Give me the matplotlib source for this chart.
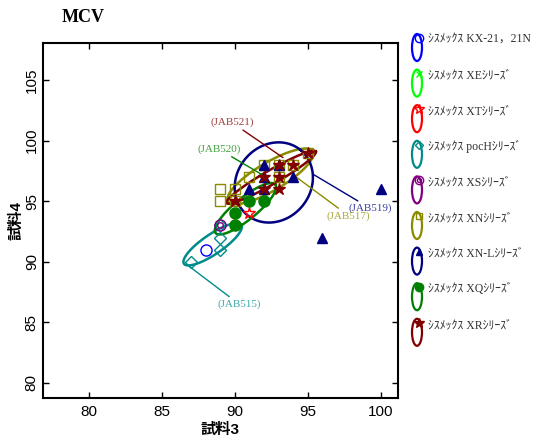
import numpy as np
import matplotlib
matplotlib.use('Agg')
import matplotlib.pyplot as plt
from matplotlib.patches import Ellipse

plt.rcParams['font.family'] = ['Liberation Sans', 'Noto Sans CJK JP']

# series (legend order)
names = ['ｼｽﾒｯｸｽ KX-21，21N', 'ｼｽﾒｯｸｽ XEｼﾘｰｽﾞ', 'ｼｽﾒｯｸｽ XTｼﾘｰｽﾞ',
         'ｼｽﾒｯｸｽ pocHｼﾘｰｽﾞ', 'ｼｽﾒｯｸｽ XSｼﾘｰｽﾞ', 'ｼｽﾒｯｸｽ XNｼﾘｰｽﾞ',
         'ｼｽﾒｯｸｽ XN-Lｼﾘｰｽﾞ', 'ｼｽﾒｯｸｽ XQｼﾘｰｽﾞ', 'ｼｽﾒｯｸｽ XRｼﾘｰｽﾞ']
colors = ['#0000FF', '#00FF00', '#FF0000', '#008B8B', '#800080',
          '#8B8B00', '#000080', '#008000', '#800000']
markers = ['o', 'x', '*', 'D', 'o', 's', '^', 'o', '*']
filled = [False, False, False, False, False, False, True, True, True]
msizes = [8, 7, 9, 6, 8, 7, 7, 8, 9]

# measured values (試料3, 試料4)
x_vals = [
    [88],
    [],
    [91],
    [89, 89, 87, 89],
    [89],
    [89, 89, 90, 90, 91, 92, 93, 94, 93, 95],
    [92, 93, 94, 92, 91, 92, 96, 100],
    [90, 90, 91, 92],
    [95, 93, 94, 92, 93, 92, 93, 90],
]
y_vals = [
    [91],
    [],
    [94],
    [93, 92, 90, 91],
    [93],
    [96, 95, 96, 95, 97, 98, 98, 98, 97, 99],
    [98, 98, 97, 97, 96, 96, 92, 96],
    [94, 93, 95, 95],
    [99, 98, 98, 97, 97, 96, 96, 95],
]

# ellipses: center, semi-axis vector A, semi-axis vector B (data units)
ell_center = {3: (88.48, 91.45), 5: (92.44, 97.05), 6: (92.67, 96.55),
              7: (90.73, 94.38), 8: (92.49, 96.98)}
ell_a = {3: (1.97, 1.61), 5: (2.91, 2.07), 6: (1.85, 2.66),
         7: (2.05, 2.0), 8: (3.06, 2.13)}
ell_b = {3: (0.38, -0.68), 5: (0.49, -1.0), 6: (-1.94, 1.97),
         7: (0.47, -0.71), 8: (0.24, -0.5)}

# labels pointing at ellipses
ann_text = ['(JAB521)', '(JAB520)', '(JAB519)', '(JAB517)', '(JAB515)']
ann_series = [8, 7, 6, 5, 3]
ann_xy = [(93.3, 98.6), (92.0, 97.1), (95.4, 97.2), (94.2, 97.0), (86.9, 89.6)]
ann_pos = [(89.8, 101.5), (88.9, 99.3), (99.3, 94.4), (97.8, 93.8), (90.3, 86.5)]

fig = plt.figure(figsize=(5.49, 4.41), dpi=100)
ax = fig.add_axes([0.0783, 0.0975, 0.6458, 0.805])

t = np.linspace(0, 2 * np.pi, 200)
for i in range(len(names)):
    if i in ell_center:
        cx, cy = ell_center[i]
        ex = cx + ell_a[i][0] * np.cos(t) + ell_b[i][0] * np.sin(t)
        ey = cy + ell_a[i][1] * np.cos(t) + ell_b[i][1] * np.sin(t)
        ax.plot(ex, ey, color=colors[i], lw=1.8, zorder=2 + i * 0.1)
    if len(x_vals[i]) == 0:
        continue
    mfc = colors[i] if filled[i] else 'none'
    ax.plot(x_vals[i], y_vals[i], ls='none', marker=markers[i], ms=msizes[i],
            mfc=mfc, mec=colors[i], mew=1, zorder=3 + i * 0.1)
    if i == 4:
        ax.plot(x_vals[i], y_vals[i], ls='none', marker='o', ms=4,
                mfc='none', mec=colors[i], mew=1, zorder=3 + i * 0.1)

for txt, s, xy, pos in zip(ann_text, ann_series, ann_xy, ann_pos):
    ax.annotate(txt, xy=xy, xytext=pos, ha='center', va='center',
                color=colors[s], alpha=0.75, fontsize=8, family='Liberation Serif',
                arrowprops=dict(arrowstyle='-', color=colors[s], lw=1,
                                shrinkA=0, shrinkB=0))

ax.set_xlim(76.85, 101.15)
ax.set_ylim(78.76, 108.06)
ax.set_xticks([80, 85, 90, 95, 100])
ax.set_yticks([80, 85, 90, 95, 100, 105])
ax.tick_params(direction='in', length=4, width=1, top=True, right=True,
               labelsize=11, pad=5)
ax.tick_params(axis='y', pad=3)
plt.setp(ax.get_yticklabels(), rotation=90, va='center')
for sp in ax.spines.values():
    sp.set_linewidth(1.5)

ax.set_xlabel('試料3', fontsize=11, fontweight='bold', labelpad=3)
ax.set_ylabel('試料4', fontsize=11, fontweight='bold', labelpad=1)

fig.text(62 / 549, 1 - 17 / 441, 'MCV', fontsize=13, fontweight='bold',
         family='Liberation Serif', va='center', ha='left')

# legend drawn by hand in pixel coordinates
lax = fig.add_axes([0, 0, 1, 1])
lax.set_xlim(0, 549)
lax.set_ylim(441, 0)
lax.axis('off')
for i in range(len(names)):
    ty = 40 + 35.6 * i
    lax.add_patch(Ellipse((417, ty + 7.5), 10, 27, fill=False,
                          ec=colors[i], lw=1.6))
    mfc = colors[i] if filled[i] else 'none'
    lax.plot([419], [ty - 2], marker=markers[i], ms=msizes[i] - 2, mfc=mfc,
             mec=colors[i], mew=1, ls='none')
    if i == 4:
        lax.plot([419], [ty - 2], marker='o', ms=3, mfc='none',
                 mec=colors[i], mew=1, ls='none')
    lax.text(428, ty, names[i], fontsize=8.5, va='center', ha='left',
             color='#333333', family=['Liberation Serif', 'Noto Sans CJK JP'])

fig.savefig('out.png', dpi=100)
